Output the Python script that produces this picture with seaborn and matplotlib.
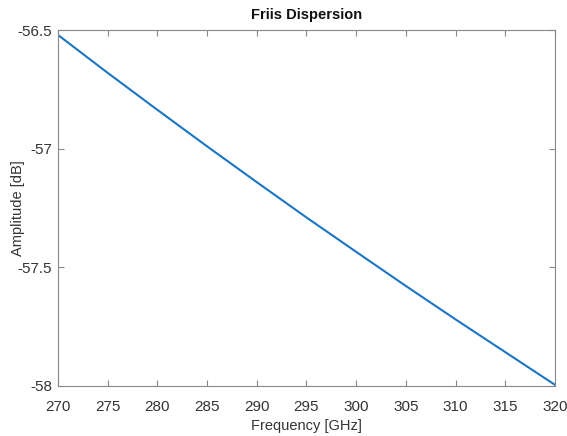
import matplotlib
matplotlib.use("Agg")
import matplotlib.pyplot as plt
import seaborn as sns
import pandas as pd

freq_ghz = [270, 275, 280, 285, 290, 295, 300, 305, 310, 315, 320]
amp_db = [-56.52, -56.68, -56.836, -56.99, -57.141, -57.29, -57.435, -57.579, -57.72, -57.858, -57.996]
xticks = [270, 275, 280, 285, 290, 295, 300, 305, 310, 315, 320]
yticks = [-58, -57.5, -57, -56.5]
ytick_labels = ["-58", "-57.5", "-57", "-56.5"]

sns.set_theme(style="white")
plt.rcParams['font.family'] = ['Liberation Sans Narrow', 'Liberation Sans', 'DejaVu Sans']

df = pd.DataFrame({"f": freq_ghz, "a": amp_db})
fig = plt.figure(figsize=(5.67, 4.36), dpi=100)
ax = fig.add_axes([0.102, 0.115, 0.877, 0.816])
sns.lineplot(data=df, x="f", y="a", ax=ax, color="#1A75C4", linewidth=1.5)

ax.set_xlim(270, 320)
ax.set_ylim(-58, -56.5)
ax.set_xticks(xticks)
ax.set_yticks(yticks)
ax.set_yticklabels(ytick_labels)
ax.tick_params(direction="in", length=4, width=0.8, color="#888888", labelcolor="#333333", labelsize=11,
               top=True, right=True, bottom=True, left=True)
ax.tick_params(axis="x", pad=10)
ax.tick_params(axis="y", pad=4)
for s in ax.spines.values():
    s.set_color("#888888")
    s.set_linewidth(0.8)
    s.set_visible(True)
ax.set_xlabel("Frequency [GHz]", fontsize=10.5, color="#333333", labelpad=4)
ax.set_ylabel("Amplitude [dB]", fontsize=10.5, color="#333333")
ax.yaxis.set_label_coords(-0.066, 0.5)
ax.set_title("Friis Dispersion", fontsize=10.5, fontweight="bold", color="#111111", pad=8)
ax.grid(False)
fig.savefig("out.png", dpi=100)
